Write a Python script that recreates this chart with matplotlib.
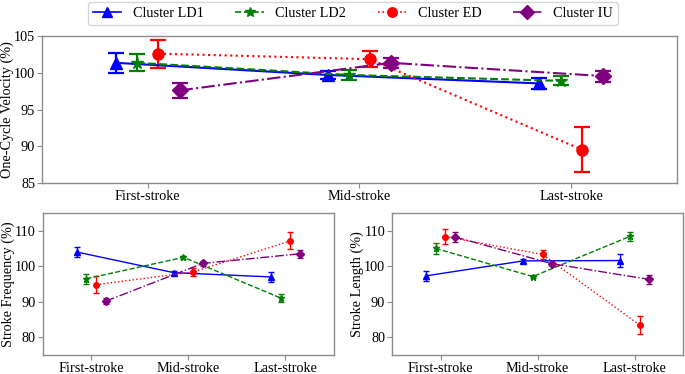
import matplotlib
matplotlib.use("Agg")
import matplotlib.pyplot as plt
from matplotlib.lines import Line2D
import numpy as np

plt.rcParams['font.family'] = ['Liberation Serif', 'DejaVu Serif']

phases = ["First-stroke", "Mid-stroke", "Last-stroke"]
clusters = ["Cluster LD1", "Cluster LD2", "Cluster ED", "Cluster IU"]
colors = ["blue", "green", "red", "purple"]
markers = ["^", "*", "o", "D"]
linestyles = ["-", "--", ":", "-."]
offsets = [-0.15, -0.05, 0.05, 0.15]

# One-cycle velocity (%)
vel_mean = {
    "Cluster LD1": [101.35, 99.7, 98.55],
    "Cluster LD2": [101.35, 99.7, 98.9],
    "Cluster ED": [102.6, 101.85, 89.55],
    "Cluster IU": [97.6, 101.35, 99.55],
}
vel_err = {
    "Cluster LD1": [1.4, 0.6, 0.8],
    "Cluster LD2": [1.15, 0.7, 0.6],
    "Cluster ED": [1.9, 1.05, 3.05],
    "Cluster IU": [1.05, 0.7, 0.75],
}

# Stroke frequency (%)
sf_mean = {
    "Cluster LD1": [104.0, 98.2, 97.0],
    "Cluster LD2": [96.5, 102.5, 91.1],
    "Cluster ED": [94.8, 98.4, 107.1],
    "Cluster IU": [90.2, 100.8, 103.5],
}
sf_err = {
    "Cluster LD1": [1.4, 0.6, 1.5],
    "Cluster LD2": [1.4, 0.5, 1.1],
    "Cluster ED": [2.4, 1.0, 2.4],
    "Cluster IU": [0.8, 0.6, 1.1],
}

# Stroke length (%)
sl_mean = {
    "Cluster LD1": [97.3, 101.5, 101.6],
    "Cluster LD2": [105.0, 97.1, 108.4],
    "Cluster ED": [108.3, 103.3, 83.5],
    "Cluster IU": [108.2, 100.7, 96.3],
}
sl_err = {
    "Cluster LD1": [1.4, 0.6, 1.8],
    "Cluster LD2": [1.6, 0.5, 1.3],
    "Cluster ED": [2.1, 1.25, 2.5],
    "Cluster IU": [1.35, 0.5, 1.2],
}

fig = plt.figure(figsize=(6.85, 3.74), dpi=100)
ax_top = fig.add_axes([0.0613, 0.5107, 0.927, 0.393])
ax_sf = fig.add_axes([0.0623, 0.050, 0.4253, 0.381])
ax_sl = fig.add_axes([0.5723, 0.050, 0.4253, 0.381])

x = np.arange(len(phases))
spine_col = "#8c8c8c"
FS = 10.3

def style_axes(ax):
    for s in ax.spines.values():
        s.set_color(spine_col)
        s.set_linewidth(1.0)
    ax.tick_params(axis='both', labelsize=FS, color=spine_col, length=3.5, pad=1.5)
    ax.set_xticks(x)
    ax.set_xticklabels(phases)
    ax.set_xlim(-0.5, 2.5)

handles = []
for i, c in enumerate(clusters):
    ms = 8 if markers[i] != "*" else 9
    ax_top.errorbar(x + offsets[i], vel_mean[c], yerr=vel_err[c],
                    color=colors[i], marker=markers[i], linestyle=linestyles[i],
                    linewidth=1.5, markersize=ms,
                    capsize=6, elinewidth=1.6, capthick=1.6, label=c)
    handles.append(Line2D([], [], color=colors[i], marker=markers[i],
                          linestyle=linestyles[i], linewidth=1.2,
                          markersize=ms * 0.85))
ax_top.set_ylim(85, 105)
ax_top.set_yticks([85, 90, 95, 100, 105])
ax_top.set_ylabel("One-Cycle Velocity (%)", fontsize=FS, labelpad=0)
style_axes(ax_top)

for ax, mean, err, ylabel in [(ax_sf, sf_mean, sf_err, "Stroke Frequency (%)"),
                              (ax_sl, sl_mean, sl_err, "Stroke Length (%)")]:
    for i, c in enumerate(clusters):
        ax.errorbar(x + offsets[i], mean[c], yerr=err[c],
                    color=colors[i], marker=markers[i], linestyle=linestyles[i],
                    linewidth=1.0, markersize=4 if markers[i] != "*" else 5,
                    capsize=2, elinewidth=1.0, capthick=1.0)
    ax.set_ylim(75, 115)
    ax.set_yticks([80, 90, 100, 110])
    ax.set_ylabel(ylabel, fontsize=FS, labelpad=0)
    style_axes(ax)

leg = fig.legend(handles=handles, labels=clusters, loc="upper center",
                 bbox_to_anchor=(0.515, 1.0), ncol=4, fontsize=FS,
                 frameon=True, handlelength=2.0, columnspacing=2.2,
                 borderpad=0.35, borderaxespad=0.15)
leg.get_frame().set_edgecolor("#cccccc")

fig.savefig("out.png", dpi=100)
